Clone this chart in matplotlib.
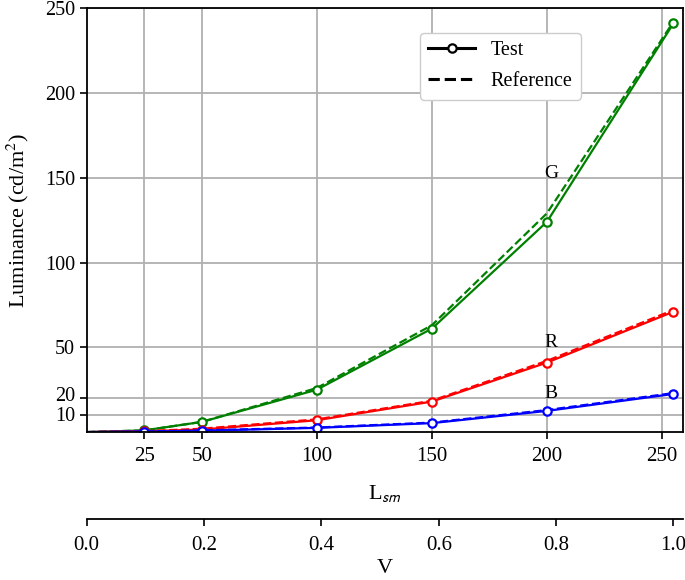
import matplotlib
matplotlib.use("Agg")
import matplotlib.pyplot as plt
import matplotlib.transforms as mtransforms
from matplotlib.lines import Line2D

plt.rcParams['font.family'] = ['Liberation Serif', 'DejaVu Serif']
plt.rcParams['mathtext.fontset'] = 'stix'

# gray levels (L_sm) and measured luminance
lsm = [0, 25, 50, 100, 150, 200, 255]
g_test = [0, 1, 6, 25, 61, 124, 241]
r_test = [0, 0.5, 1.5, 7, 18, 41, 71]
b_test = [0, 0.3, 0.8, 2.5, 5.3, 12.5, 22.5]
g_ref = [0, 1, 6, 26, 63, 129, 242]
r_ref = [0, 0.5, 2, 7.5, 18.5, 42, 72]
b_ref = [0, 0.3, 1, 2.7, 5.6, 13, 23]

xticks = [25, 50, 100, 150, 200, 250]
yticks = [10, 20, 50, 100, 150, 200, 250]
vmax = 255

fig = plt.figure(figsize=(6.85, 5.8), dpi=100)
ax = fig.add_axes([0.1266, 0.255, 0.870, 0.731])

for test, ref, c in [(g_test, g_ref, 'green'), (r_test, r_ref, 'red'), (b_test, b_ref, 'blue')]:
    ax.plot(lsm, ref, color=c, lw=1.6, ls='--')
    ax.plot(lsm, test, color=c, lw=1.6, marker='o', ms=6, mfc='white', mew=1.6,
            markevery=list(range(1, len(lsm))))

ax.text(199, 150, 'G', fontsize=14, va='baseline')
ax.text(199, 50, 'R', fontsize=14, va='baseline')
ax.text(199, 20, 'B', fontsize=14, va='baseline')

ax.set_xlim(0, 259)
ax.set_ylim(0, 250)
ax.set_xticks(xticks)
ax.set_yticks(yticks)
ax.tick_params(labelsize=15, width=1.2, length=5)
ax.tick_params(axis='x', pad=6)
ax.tick_params(axis='y', labelsize=14.5)
ax.grid(True, color='#b0b0b0', lw=1.3)
for s in ax.spines.values():
    s.set_linewidth(1.3)
ax.set_ylabel('Luminance (cd/m$^2$)', fontsize=16, labelpad=10)
ax.set_xlabel(r'L$_\mathsf{sm}$', fontsize=16, labelpad=12)

# the 10 and 20 labels sit very close; nudge them apart a little
ylabels = ax.get_yticklabels()
ylabels[0].set_verticalalignment('top')
ylabels[0].set_transform(ylabels[0].get_transform() +
                         mtransforms.ScaledTranslation(0, 8 / 100, fig.dpi_scale_trans))
ylabels[1].set_verticalalignment('bottom')
ylabels[1].set_transform(ylabels[1].get_transform() +
                         mtransforms.ScaledTranslation(0, -8 / 100, fig.dpi_scale_trans))

handles = [Line2D([], [], color='black', lw=2.2, marker='o', ms=6, mfc='white', mew=1.6),
           Line2D([], [], color='black', lw=2.2, ls='--')]
ax.legend(handles, ['Test', 'Reference'], loc='upper right', bbox_to_anchor=(0.829, 0.941),
          borderaxespad=0, fontsize=14.5, handlelength=2.3, labelspacing=0.6, framealpha=1)

sec = ax.secondary_xaxis(-0.205, functions=(lambda x: x / vmax, lambda v: v * vmax))
sec.set_xticks([0.0, 0.2, 0.4, 0.6, 0.8, 1.0])
sec.tick_params(labelsize=15, width=1.2, length=5, pad=7)
sec.spines['bottom'].set_linewidth(1.3)
sec.set_xlabel('V', fontsize=16, labelpad=3)

fig.savefig('out.png', dpi=100)
